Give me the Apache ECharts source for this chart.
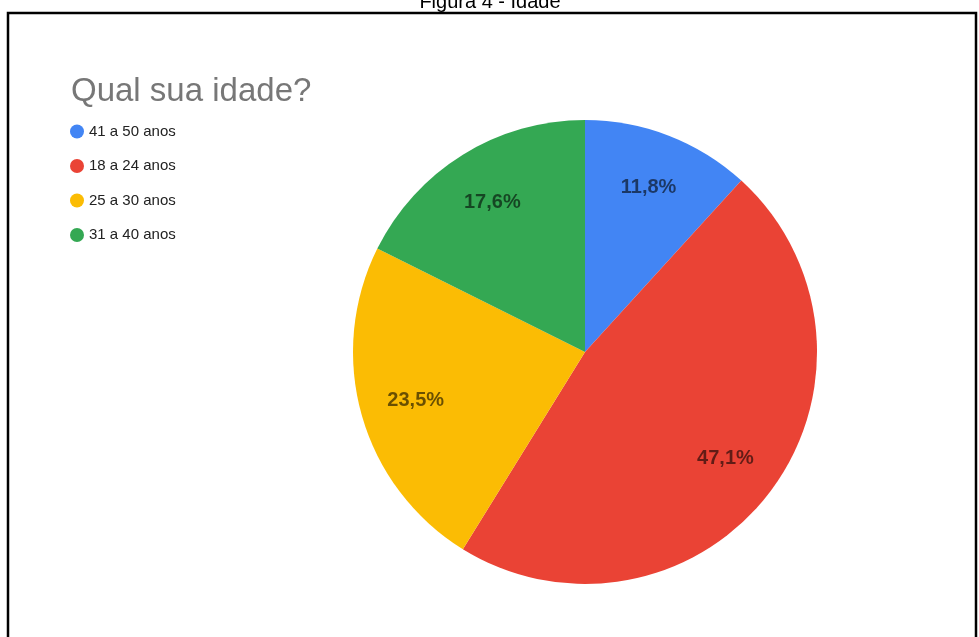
<!DOCTYPE html>
<html>
<head>
<meta charset="utf-8">
<script src="https://cdn.jsdelivr.net/npm/echarts@6/dist/echarts.min.js"></script>
<style>
  html, body { margin: 0; padding: 0; background: #fff; }
  #chart { width: 979px; height: 637px; }
</style>
</head>
<body>
<div id="chart"></div>
<script>
// dados da figura
var faixas = ['41 a 50 anos', '18 a 24 anos', '25 a 30 anos', '31 a 40 anos'];
var respostas = [2, 8, 4, 3];
var cores = ['#4285f4', '#ea4335', '#fbbc04', '#34a853'];

var chart = echarts.init(document.getElementById('chart'));

var dados = faixas.map(function (f, i) {
    return { name: f, value: respostas[i], itemStyle: { color: cores[i] } };
});

var option = {
    animation: false,
    title: {
        text: 'Qual sua idade?',
        left: 66,
        top: 70,
        textStyle: {
            fontFamily: 'Arial, Liberation Sans',
            fontSize: 33,
            fontWeight: 'normal',
            color: '#777'
        }
    },
    legend: {
        orient: 'vertical',
        left: 65,
        top: 119,
        icon: 'circle',
        itemWidth: 14,
        itemHeight: 14,
        itemGap: 19.5,
        data: faixas,
        textStyle: {
            fontFamily: 'Arial, Liberation Sans',
            fontSize: 15,
            color: '#222',
            lineHeight: 13
        }
    },
    graphic: [
        {
            type: 'rect',
            silent: true,
            shape: { x: 8, y: 13, width: 968, height: 700 },
            style: { fill: 'none', stroke: '#000', lineWidth: 2.5 }
        },
        {
            type: 'text',
            silent: true,
            x: 490,
            y: -8,
            style: {
                text: 'Figura 4 - Idade',
                fill: '#000',
                font: '20px Arial, "Liberation Sans"',
                align: 'center',
                verticalAlign: 'top'
            }
        }
    ],
    series: [
        {
            name: 'idade',
            type: 'pie',
            center: [585, 352],
            radius: 232,
            startAngle: 90,
            label: { show: false },
            labelLine: { show: false },
            emphasis: { disabled: true },
            data: dados
        },
        {
            // só para posicionar os rótulos a ~3/4 do raio
            name: 'rotulos',
            type: 'pie',
            center: [585, 352],
            radius: [114, 232],
            startAngle: 90,
            silent: true,
            percentPrecision: 1,
            itemStyle: { color: 'rgba(0,0,0,0)' },
            emphasis: { disabled: true },
            label: {
                show: true,
                position: 'inside',
                fontFamily: 'Arial, Liberation Sans',
                fontSize: 20,
                fontWeight: 'bold',
                color: 'rgba(0,0,0,0.58)',
                formatter: function (p) {
                    return p.percent.toFixed(1).replace('.', ',') + '%';
                }
            },
            labelLine: { show: false },
            data: faixas.map(function (f, i) { return { name: f, value: respostas[i] }; })
        }
    ]
};

chart.setOption(option);
</script>
</body>
</html>
